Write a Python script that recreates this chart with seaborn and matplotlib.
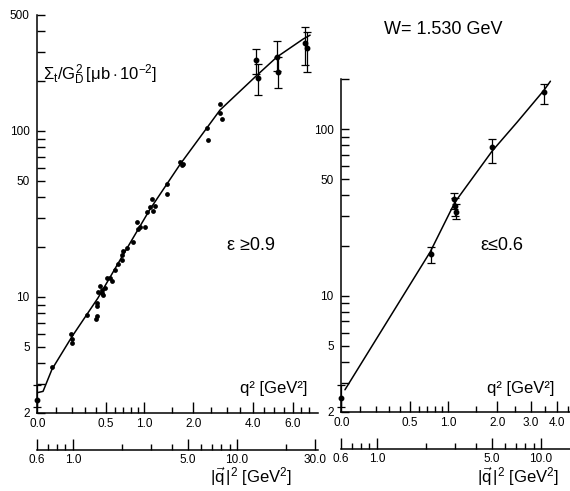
import numpy as np
import matplotlib
matplotlib.use("Agg")
import matplotlib.pyplot as plt
import matplotlib.ticker as mticker
import seaborn as sns

# kinematics at W = 1.530 GeV: |q|^2 (lab) as function of q^2
W = 1.530
M = 0.938

# eps >= 0.9 panel, points without visible error bars
qv2_hi = [0.745, 0.972, 0.986, 0.98, 1.217, 1.40, 1.40, 1.40, 1.38,
          1.42, 1.46, 1.50, 1.567, 1.52, 1.50, 1.61, 1.68, 1.73,
          1.80, 1.88, 1.99, 1.99, 2.02, 2.13, 2.32, 2.46, 2.49, 2.56, 2.75,
          2.83, 2.95, 3.03, 3.07, 3.16, 3.74, 3.74, 4.49, 4.60, 4.69,
          6.56, 6.65, 7.88, 7.88, 8.10]
sig_hi = [3.77, 6.02, 5.61, 5.30, 7.76, 9.19, 8.80, 7.65, 7.33,
          10.7, 11.6, 11.0, 11.3, 10.3, 10.55, 13.0, 13.0, 12.5,
          14.5, 15.9, 16.6, 17.8, 19.0, 19.6, 21.5, 28.3, 25.7, 26.5, 26.5,
          32.5, 34.8, 38.8, 33.0, 35.3, 47.7, 41.6, 65.4, 62.8, 63.5,
          104, 88.3, 145, 128, 118]

# eps >= 0.9 panel, points with error bars
qv2_hi_e = [0.606, 13.1, 13.4, 17.5, 17.8, 26.0, 26.7]
sig_hi_e = [2.40, 268, 209, 279, 227, 339, 316]
sig_hi_lo = [2.18, 220, 165, 230, 181, 250, 227]
sig_hi_up = [2.93, 312, 255, 348, 280, 424, 395]

# eps <= 0.6 panel
qv2_lo = [0.606, 2.13, 2.96, 2.99, 3.02, 5.03, 10.4]
sig_lo = [2.43, 17.8, 38.0, 34.6, 31.8, 78.0, 166.6]
sig_lo_lo = [2.15, 15.8, 33.0, 30.0, 28.9, 62.6, 141]
sig_lo_up = [2.90, 19.6, 41.4, 38.5, 35.5, 87.0, 186]

# fitted curves
curve_hi_x = [0.606, 0.657, 0.745, 0.986, 1.42, 1.93, 2.95, 4.49, 7.88,
              13.25, 17.5, 25.3, 27.9]
curve_hi_y = [2.65, 2.70, 3.67, 5.77, 9.86, 16.6, 33.8, 62.8, 133.8,
              217, 279, 358, 378]
curve_lo_x = [0.638, 2.11, 2.99, 5.03, 7.14, 10.4, 11.4]
curve_lo_y = [2.72, 18.3, 36.5, 73.8, 110, 171, 194]

# tick values
q2_major_hi = [0.0, 0.5, 1.0, 2.0, 4.0, 6.0]
q2_minor_hi = [0.1, 0.2, 0.3, 0.4, 0.6, 0.7, 0.8, 0.9, 1.5, 2.5, 3.0, 3.5,
               4.5, 5.0, 5.5, 6.5, 7.0]
q2_major_lo = [0.0, 0.5, 1.0, 2.0, 3.0, 4.0]
q2_minor_lo = [0.1, 0.2, 0.3, 0.4, 0.6, 0.7, 0.8, 0.9, 1.5, 2.5, 3.5, 4.5]
qv_major = [0.6, 1.0, 5.0, 10.0, 30.0]
qv_minor = [0.7, 0.8, 0.9, 2, 3, 4, 6, 7, 8, 9, 20]
y_ticks = [2, 3, 4, 5, 6, 7, 8, 9, 10, 20, 30, 40, 50, 60, 70, 80, 90,
           100, 200, 300, 400, 500]
y_labels = [2, 5, 10, 50, 100, 500]


def qvec2(q2):
    q2 = np.asarray(q2, dtype=float)
    nu = (W**2 - M**2 + q2) / (2 * M)
    return q2 + nu**2


sns.set_theme(style="white")
plt.rcParams["font.family"] = ["Liberation Sans", "DejaVu Sans"]
plt.rcParams["mathtext.fontset"] = "custom"
plt.rcParams["mathtext.rm"] = "Liberation Sans"
plt.rcParams["mathtext.it"] = "Liberation Sans"
plt.rcParams["mathtext.bf"] = "Liberation Sans:bold"

fig = plt.figure(figsize=(5.7, 4.91), dpi=100)
ax1 = fig.add_axes([0.0642, 0.1589, 0.493, 0.8106])
ax2 = fig.add_axes([0.5975, 0.1609, 0.4025, 0.6782])


def style_panel(ax, ymax, xmax, q2_major, q2_minor, qv_maj, qv_min, ylabs):
    ax.set_xscale("log")
    ax.set_yscale("log")
    ax.set_xlim(0.6, xmax)
    ax.set_ylim(2, ymax)
    ax.set_facecolor("none")
    for s in ["top", "right"]:
        ax.spines[s].set_visible(False)
    for s in ["left", "bottom"]:
        ax.spines[s].set_color("black")
        ax.spines[s].set_linewidth(1.1)
    ax.spines["bottom"].set_position(("outward", 26.5))

    yt = [t for t in y_ticks if t <= ymax]
    ax.yaxis.set_major_locator(mticker.FixedLocator(yt))
    ax.yaxis.set_major_formatter(mticker.FixedFormatter(
        [str(t) if t in ylabs else "" for t in yt]))
    ax.yaxis.set_minor_locator(mticker.NullLocator())
    ax.tick_params(axis="y", direction="in", length=5.5, width=1.0,
                   labelsize=8.5, pad=5, colors="black", left=True)

    # |q|^2 axis (lower line)
    qmaj = [t for t in qv_maj if t <= xmax]
    ax.xaxis.set_major_locator(mticker.FixedLocator(qmaj))
    ax.xaxis.set_major_formatter(mticker.FixedFormatter(
        ["%.1f" % t for t in qmaj]))
    ax.xaxis.set_minor_locator(mticker.FixedLocator(
        [t for t in qv_min if t <= xmax]))
    ax.xaxis.set_minor_formatter(mticker.NullFormatter())
    ax.tick_params(axis="x", which="major", direction="in", length=8,
                   width=1.0, labelsize=8.5, pad=3, colors="black",
                   bottom=True)
    ax.tick_params(axis="x", which="minor", direction="in", length=4.5,
                   width=1.0, colors="black", bottom=True)

    # q^2 axis (frame bottom)
    sec = ax.secondary_xaxis("bottom")
    sec.spines["bottom"].set_color("black")
    sec.spines["bottom"].set_linewidth(1.1)
    sec.xaxis.set_major_locator(mticker.FixedLocator(qvec2(q2_major)))
    sec.xaxis.set_major_formatter(mticker.FixedFormatter(
        ["%.1f" % t for t in q2_major]))
    sec.xaxis.set_minor_locator(mticker.FixedLocator(qvec2(q2_minor)))
    sec.xaxis.set_minor_formatter(mticker.NullFormatter())
    sec.tick_params(axis="x", which="major", direction="in", length=8,
                    width=1.0, labelsize=8.5, pad=3.5, colors="black")
    sec.tick_params(axis="x", which="minor", direction="in", length=4.5,
                    width=1.0, colors="black")
    return sec


style_panel(ax1, 500, 31, q2_major_hi, q2_minor_hi, qv_major, qv_minor,
            y_labels)
style_panel(ax2, 200, 15, q2_major_lo, q2_minor_lo, qv_major, qv_minor,
            y_labels)

# eps >= 0.9
sns.lineplot(x=curve_hi_x, y=curve_hi_y, ax=ax1, color="black", lw=1.1,
             sort=False, estimator=None)
sns.scatterplot(x=qv2_hi, y=sig_hi, ax=ax1, color="black", s=12,
                linewidth=0, zorder=3)
e = np.array(sig_hi_e)
ax1.errorbar(qv2_hi_e, sig_hi_e,
             yerr=[e - np.array(sig_hi_lo), np.array(sig_hi_up) - e],
             fmt="o", ms=3.2, color="black", ecolor="black", elinewidth=0.9,
             capsize=2.6, capthick=0.9, clip_on=False)

# eps <= 0.6
sns.lineplot(x=curve_lo_x, y=curve_lo_y, ax=ax2, color="black", lw=1.1,
             sort=False, estimator=None)
e = np.array(sig_lo)
ax2.errorbar(qv2_lo, sig_lo,
             yerr=[e - np.array(sig_lo_lo), np.array(sig_lo_up) - e],
             fmt="o", ms=3.2, color="black", ecolor="black", elinewidth=0.9,
             capsize=2.6, capthick=0.9, clip_on=False)

# labels
fig.text(43 / 570, 1 - 75 / 491,
         r"$\Sigma_t/G_D^2\,[\mu\mathrm{b}\cdot10^{-2}]$",
         ha="left", va="center", fontsize=12, color="black")
fig.text(443 / 570, 1 - 30 / 491, "W= 1.530 GeV", ha="center",
         va="center", fontsize=13, color="black")
fig.text(227 / 570, 1 - 245 / 491, "ε ≥0.9", ha="left", va="center",
         fontsize=13, color="black")
fig.text(480 / 570, 1 - 246 / 491, "ε≤0.6", ha="left", va="center",
         fontsize=13, color="black")
for xl in (240, 487):
    fig.text(xl / 570, 1 - 388 / 491, "q² [GeV²]", ha="left",
             va="center", fontsize=12, color="black")
for xl in (210, 477):
    fig.text(xl / 570, 1 - 477 / 491,
             r"$|\vec{\mathrm{q}}\,|^2\ [\mathrm{GeV}^2]$", ha="left",
             va="center", fontsize=12, color="black")

fig.savefig("out.png", dpi=100)
